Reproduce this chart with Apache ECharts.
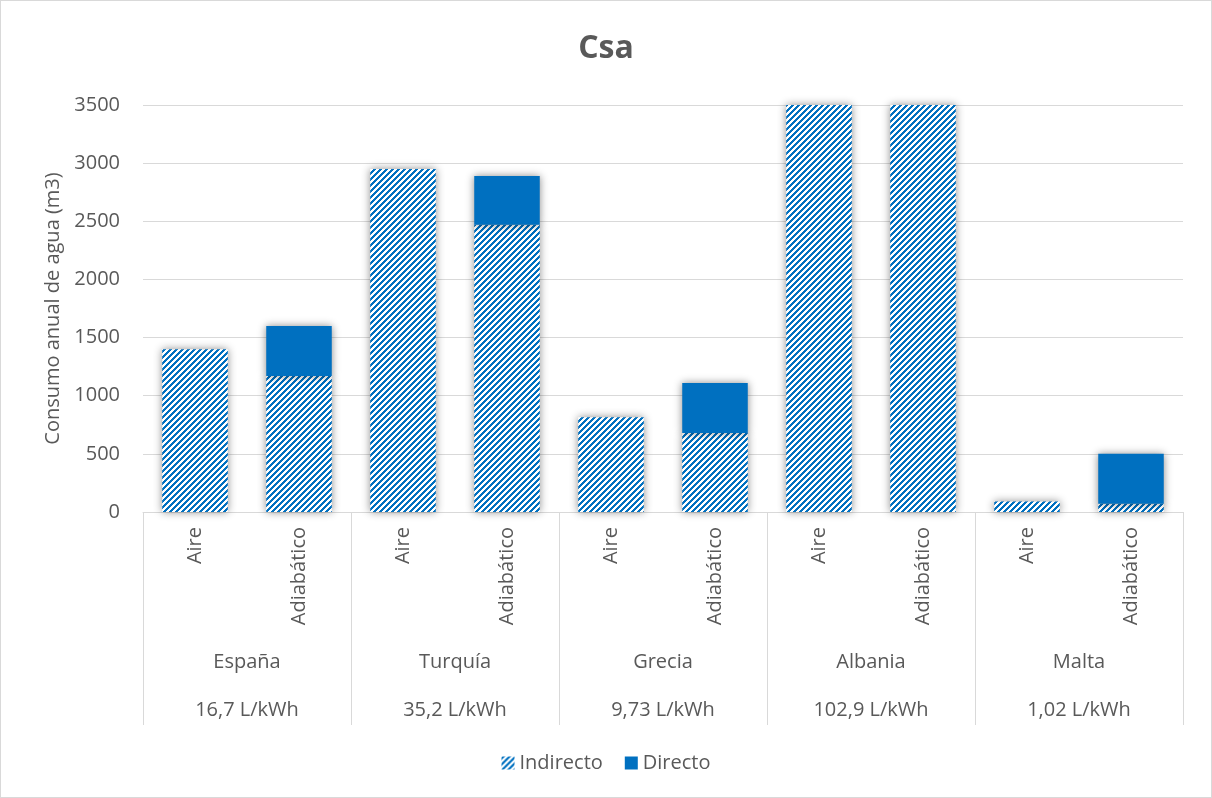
<!DOCTYPE html>
<html>
<head>
<meta charset="utf-8">
<script src="https://cdn.jsdelivr.net/npm/echarts@6/dist/echarts.min.js"></script>
<style>
html,body{margin:0;padding:0;background:#fff;}
#c{width:1212px;height:798px;box-sizing:border-box;border:1px solid #d9d9d9;}
</style>
</head>
<body>
<div id="c"></div>
<script>
// ---- data ----
const systems = ['Aire','Adiabático','Aire','Adiabático','Aire','Adiabático','Aire','Adiabático','Aire','Adiabático'];
const countries = ['España','Turquía','Grecia','Albania','Malta'];
const intensities = ['16,7 L/kWh','35,2 L/kWh','9,73 L/kWh','102,9 L/kWh','1,02 L/kWh'];
const indirecto = [1400, 1170, 2950, 2470, 815, 680, 8650, 7220, 90, 70];
const directo   = [0, 430, 0, 420, 0, 430, 0, 430, 0, 430];
const yTicks = [0, 500, 1000, 1500, 2000, 2500, 3000, 3500];

// ---- hatch pattern ----
function hatch(){
  const n = 6;
  const cv = document.createElement('canvas');
  cv.width = n; cv.height = n;
  const ctx = cv.getContext('2d');
  const img = ctx.createImageData(n, n);
  for (let y = 0; y < n; y++) for (let x = 0; x < n; x++) {
    const i = (y * n + x) * 4;
    const blue = ((x + y) % n) < 3;
    img.data[i]   = blue ? 0x00 : 0xff;
    img.data[i+1] = blue ? 0x70 : 0xff;
    img.data[i+2] = blue ? 0xC0 : 0xff;
    img.data[i+3] = 255;
  }
  ctx.putImageData(img, 0, 0);
  return cv;
}
const pattern = { image: hatch(), repeat: 'repeat' };

const FONT = '"Open Sans", sans-serif';
const TXT = '#595959';
const LINE = '#d9d9d9';

const chart = echarts.init(document.getElementById('c'), null, {renderer: 'canvas'});
chart.setOption({
  animation: false,
  textStyle: { fontFamily: FONT },
  title: {
    text: 'Csa', left: 'center', top: 27,
    textStyle: { fontFamily: FONT, fontSize: 32, fontWeight: 'bold', color: TXT }
  },
  legend: {
    bottom: 19, left: 'center',
    itemWidth: 13, itemHeight: 13, itemGap: 22,
    textStyle: { fontFamily: FONT, fontSize: 20, color: TXT },
    data: [
      { name: 'Indirecto', icon: 'rect' },
      { name: 'Directo', icon: 'rect' }
    ]
  },
  grid: { left: 142, right: 28, top: 104, bottom: 285 },
  xAxis: [
    {
      type: 'category', data: systems,
      axisLine: { lineStyle: { color: LINE, width: 1 } },
      axisTick: { show: false },
      axisLabel: { rotate: 90, margin: 15, fontSize: 20, color: TXT, fontFamily: FONT, interval: 0 }
    },
    {
      type: 'category', data: countries, position: 'bottom',
      axisLine: { show: false },
      axisTick: { show: true, length: 213, lineStyle: { color: LINE } },
      axisLabel: { margin: 140, fontSize: 20, color: TXT, fontFamily: FONT, interval: 0 }
    },
    {
      type: 'category', data: intensities, position: 'bottom',
      axisLine: { show: false },
      axisTick: { show: false },
      axisLabel: { margin: 188, fontSize: 20, color: TXT, fontFamily: FONT, interval: 0 }
    }
  ],
  yAxis: {
    type: 'value', min: yTicks[0], max: yTicks[yTicks.length - 1], interval: 500,
    name: 'Consumo anual de agua (m3)', nameLocation: 'middle', nameGap: 80,
    nameTextStyle: { fontFamily: FONT, fontSize: 20, color: TXT },
    axisLine: { show: false }, axisTick: { show: false },
    splitLine: { lineStyle: { color: LINE, width: 1 } },
    axisLabel: { margin: 23, fontSize: 20, color: TXT, fontFamily: FONT, formatter: v => String(v) }
  },
  series: [
    {
      name: 'Indirecto', type: 'bar', stack: 'a', data: indirecto,
      barCategoryGap: '37%', clip: true,
      itemStyle: { color: pattern, shadowBlur: 8, shadowColor: 'rgba(0,0,0,0.45)' }
    },
    {
      name: 'Directo', type: 'bar', stack: 'a', data: directo,
      barCategoryGap: '37%', clip: true,
      itemStyle: { color: '#0070C0', shadowBlur: 8, shadowColor: 'rgba(0,0,0,0.45)' }
    }
  ]
});
</script>
</body>
</html>
